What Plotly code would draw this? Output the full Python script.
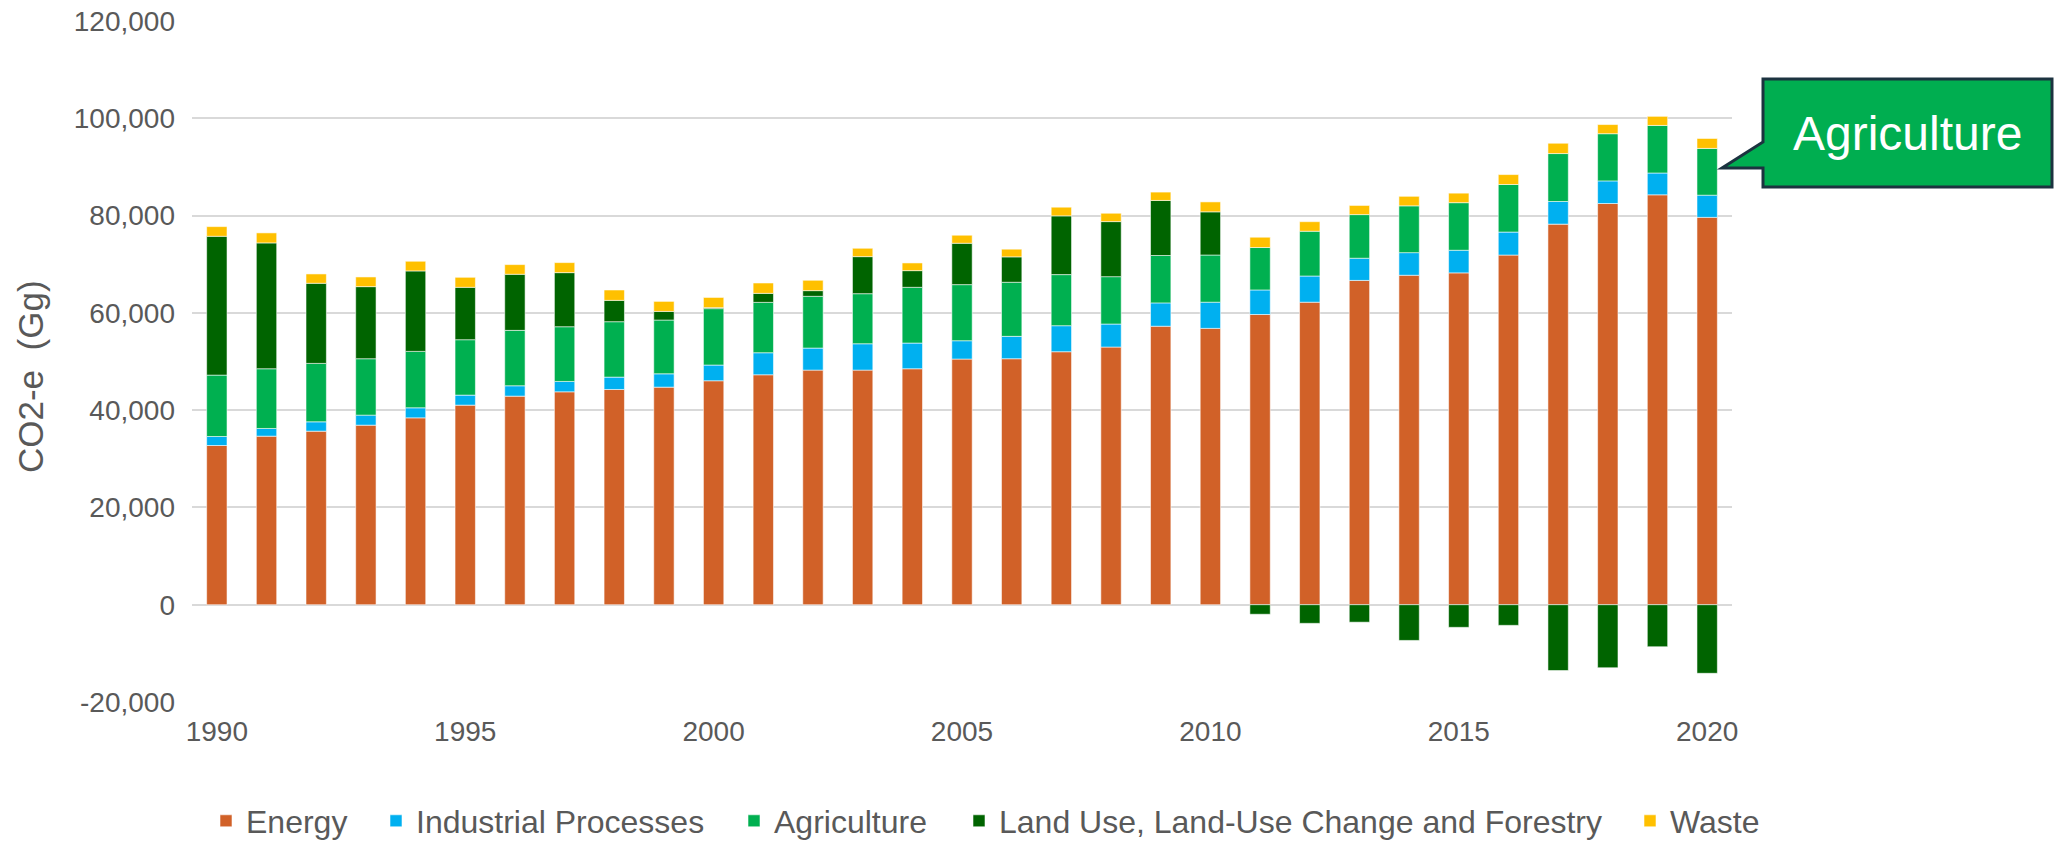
import plotly.graph_objects as go

# Greenhouse gas emissions by sector, Gg CO2-e
years = list(range(1990, 2021))

energy = [32730, 34650, 35680, 36910, 38420, 41030, 42880, 43770, 44250, 44730,
          46040, 47270, 48230, 48230, 48510, 50500, 50570, 52010, 52970, 57250,
          56810, 59660, 62190, 66670, 67730, 68220, 71880, 78240, 82480, 84270,
          79630]
industrial = [1850, 1580, 1920, 2060, 2060, 2060, 2130, 2130, 2540, 2740,
              3230, 4530, 4530, 5420, 5280, 3770, 4600, 5350, 4730, 4800,
              5380, 5050, 5380, 4560, 4650, 4650, 4730, 4650, 4650, 4480,
              4560]
agriculture = [12620, 12280, 12010, 11600, 11600, 11390, 11390, 11250, 11390, 11050,
               11600, 10360, 10640, 10290, 11460, 11530, 11120, 10500, 9740, 9740,
               9700, 8720, 9210, 8970, 9620, 9780, 9780, 9860, 9700, 9780,
               9620]
lulucf = [28540, 25870, 16470, 14820, 16540, 10770, 11530, 11120, 4390, 1780,
          200, 1850, 1170, 7620, 3430, 8510, 5220, 12080, 11320, 11320,
          8880, -1960, -3830, -3590, -7340, -4650, -4240, -13530, -12960, -8640,
          -14100]
waste = [1990, 2060, 1920, 1990, 1990, 2060, 1990, 2060, 2130, 2060,
         2100, 2130, 2130, 1720, 1580, 1650, 1580, 1780, 1720, 1720,
         2040, 2120, 1960, 1880, 1960, 1960, 2040, 2120, 1880, 1870,
         2040]

series_names = ["Energy", "Industrial Processes", "Agriculture",
                "Land Use, Land-Use Change and Forestry", "Waste"]
series_values = [energy, industrial, agriculture, lulucf, waste]
series_colors = ["#D16128", "#00B0F0", "#00B050", "#006400", "#FFC000"]

y_ticks = [-20000, 0, 20000, 40000, 60000, 80000, 100000, 120000]
x_ticks = [1990, 1995, 2000, 2005, 2010, 2015, 2020]

W, H = 2062, 841
L, R, T, B = 192, 330, 21, 139
PW, PH = W - L - R, H - T - B


def px_x(p):
    return (p - L) / PW


def px_y(p):
    return (H - B - p) / PH


grey = "#595959"
font_family = "Liberation Sans, Arial, sans-serif"

# each legend entry gets its own legend box so the entries can be spaced freely
legend_text_left = [246, 416, 774, 999, 1670]
legend_ids = ["legend", "legend2", "legend3", "legend4", "legend5"]

fig = go.Figure()
for name, vals, col, lid in zip(series_names, series_values, series_colors, legend_ids):
    fig.add_trace(go.Bar(
        x=years, y=vals, name=name, legend=lid,
        marker=dict(color=col, line=dict(color="rgba(255,255,255,0.55)", width=1)),
    ))

legend_layouts = {}
for lid, tx in zip(legend_ids, legend_text_left):
    legend_layouts[lid] = dict(
        orientation="h",
        x=px_x(tx - 40), xanchor="left",
        y=px_y(821), yanchor="middle",
        font=dict(size=32, color=grey, family=font_family),
        bgcolor="rgba(0,0,0,0)", borderwidth=0,
        itemclick=False, itemdoubleclick=False,
    )

fig.update_layout(
    width=W, height=H,
    margin=dict(l=L, r=R, t=T, b=B, pad=0, autoexpand=False),
    barmode="relative",
    bargap=0.59,
    plot_bgcolor="white",
    paper_bgcolor="white",
    font=dict(family=font_family, color=grey),
    showlegend=True,
    xaxis=dict(
        range=[1989.5, 2020.5],
        tickmode="array", tickvals=x_ticks,
        ticktext=[str(v) for v in x_ticks],
        showgrid=False, zeroline=False, showline=False,
        tickfont=dict(size=28, color=grey),
        ticklabelstandoff=10,
    ),
    yaxis=dict(
        range=[-20000, 120000],
        tickmode="array", tickvals=y_ticks,
        ticktext=[f"{v:,}" for v in y_ticks],
        showgrid=True, gridcolor="#D9D9D9", gridwidth=1.6,
        zeroline=True, zerolinecolor="#D9D9D9", zerolinewidth=1.6,
        showline=False,
        tickfont=dict(size=28, color=grey),
        ticklabelstandoff=16,
    ),
    **legend_layouts,
)

# Vertical axis title
fig.add_annotation(
    text="CO2-e\u00a0\u00a0(Gg)", textangle=-90,
    xref="paper", yref="paper",
    x=px_x(30), y=px_y(377), xanchor="center", yanchor="middle",
    showarrow=False, font=dict(size=35, color=grey, family=font_family),
)

# Callout box with a pointer toward the 2020 agriculture segment
bx0, bx1, by0, by1 = 1763, 2052, 79, 187
tip_x, tip_y, wedge_top = 1722, 168, 142
path = (
    f"M {px_x(bx0)},{px_y(by0)} L {px_x(bx1)},{px_y(by0)} "
    f"L {px_x(bx1)},{px_y(by1)} L {px_x(bx0)},{px_y(by1)} "
    f"L {px_x(bx0)},{px_y(tip_y)} L {px_x(tip_x)},{px_y(tip_y)} "
    f"L {px_x(bx0)},{px_y(wedge_top)} Z"
)
fig.add_shape(
    type="path", path=path, xref="paper", yref="paper",
    fillcolor="#00AE50", line=dict(color="#1C3340", width=3), layer="above",
)
fig.add_annotation(
    text="Agriculture", xref="paper", yref="paper",
    x=px_x((bx0 + bx1) / 2), y=px_y(134), xanchor="center", yanchor="middle",
    showarrow=False, font=dict(size=48, color="white", family=font_family),
)

fig.write_html("out.html")
